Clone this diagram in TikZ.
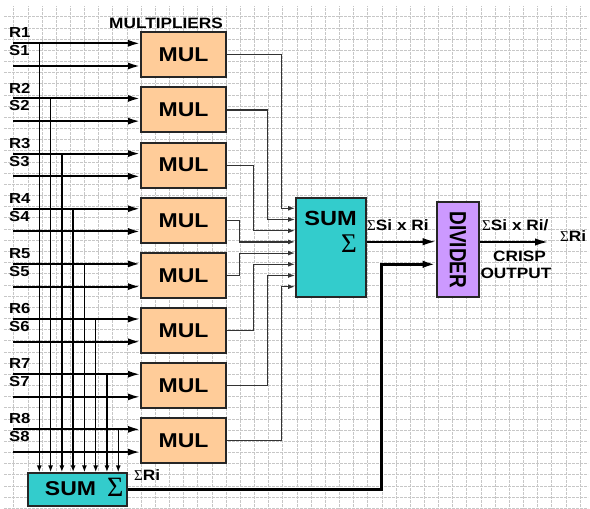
\documentclass[tikz,border=0pt]{standalone}
\usepackage{fontspec}
\setmainfont[FakeStretch=1.15]{Liberation Sans}
\newfontfamily\sigfont{Liberation Serif}
\usetikzlibrary{arrows.meta,calc}
\definecolor{mulfill}{HTML}{FFCC99}
\definecolor{sumfill}{HTML}{33CCCC}
\definecolor{divfill}{HTML}{CC99FF}
\begin{document}
\begin{tikzpicture}[x=1pt,y=-1pt,
  gridline/.style={draw=black!22,line width=0.5pt,dash pattern=on 2.5pt off 1.5pt},
  box/.style={draw=black!85,line width=2pt,inner sep=0pt},
  mulbox/.style={box,fill=mulfill,minimum width=85pt,minimum height=45pt,
     font=\fontsize{20}{20}\selectfont\bfseries},
  lbl/.style={inner sep=0pt,font=\fontsize{14.5}{14.5}\selectfont\bfseries},
  mlbl/.style={inner sep=0pt,font=\fontsize{15}{15}\selectfont\bfseries},
  inarr/.style={line width=2pt,-{Latex[length=12pt,width=7pt]}},
  varr/.style={line width=1.4pt,-{Latex[length=7pt,width=5pt]}},
  outline/.style={draw=black!80,line width=1.2pt,-{Latex[length=7pt,width=5pt]}},
  mainarr/.style={line width=2pt,-{Latex[length=13pt,width=7.5pt]}},
  fatarr/.style={line width=3pt,-{Latex[length=13pt,width=7.5pt]}}
]
\useasboundingbox (0,0) rectangle (590,509);
% background grid
\begin{scope}
\clip (4,6) rectangle (588,509);
\foreach \k in {0,...,41} \draw[gridline] ({-0.56+14.16*\k},0) -- ++(0,509);
\foreach \k in {0,...,45} \draw[gridline] (0,{5.5+11.17*\k}) -- ++(590,0);
\end{scope}

% multipliers
\node[mlbl,anchor=base west] (multl) at (109,28.3) {MULTIPLIERS};
\foreach \i in {1,...,8} {
  \pgfmathsetmacro\t{32.3+55.15*(\i-1)}
  \node[mulbox] (m\i) at (183.5,{\t+22.5}) {MUL};
  \node[lbl,anchor=base west] (rl\i) at (9,{\t+5.6}) {R\i};
  \node[lbl,anchor=base west] (sl\i) at (9,{\t+23.5}) {S\i};
  \coordinate (r\i) at (13,{\t+11});
  \coordinate (s\i) at (13,{\t+33.7});
  \coordinate (t\i) at ({39.3+11.28*(\i-1)},{\t+11});
}

% sum boxes and divider
\node[box,fill=sumfill,minimum width=70pt,minimum height=99pt] (sum) at (331,247.8) {};
\node[inner sep=0pt,anchor=base,font=\fontsize{20.5}{20.5}\selectfont\bfseries] (sumt) at (330.5,225) {SUM};
\node[inner sep=0pt,font=\sigfont\fontsize{27}{27}\selectfont] (sums) at (349,243.5) {Σ};

\node[box,fill=divfill,minimum width=42.6pt,minimum height=95pt] (div) at (458,249.8) {};
\node[inner sep=0pt,rotate=-90] (divt) at (div.center)
  {\fontsize{16.5}{16.5}\selectfont\bfseries\scalebox{1}[1.42]{DIVIDER}};

\node[box,fill=sumfill,minimum width=98.4pt,minimum height=32.7pt] (sumlow) at (77.5,489.7) {};
\node[inner sep=0pt,anchor=base,font=\fontsize{20}{20}\selectfont\bfseries] (sumlowt) at (70.5,495.5) {SUM};
\node[inner sep=0pt,font=\sigfont\fontsize{28}{28}\selectfont] (sumlows) at (115.3,487) {Σ};

% labels
\node[mlbl,anchor=base west] (rilbl) at (134,480) {{\sigfont\mdseries Σ}Ri};
\node[mlbl,anchor=base west] (srlbl) at (367,230.7) {{\sigfont\mdseries Σ}Si x Ri};
\node[mlbl,anchor=base west] (outlbl) at (482,230.7) {{\sigfont\mdseries Σ}Si x Ri/};
\node[mlbl,anchor=base west] (outlblb) at (560,241) {{\sigfont\mdseries Σ}Ri};
\node[mlbl,anchor=base] (crisp) at (519.5,261.7) {CRISP};
\node[mlbl,anchor=base] (crispb) at (516,278.3) {OUTPUT};

% inputs
\foreach \i in {1,...,8} {
  \draw[inarr] (r\i) -- (r\i -| m\i.west);
  \draw[inarr] (s\i) -- (s\i -| m\i.west);
  \draw[varr] (t\i) -- (t\i |- sumlow.north);
}

% multiplier outputs to sum
\foreach \i/\v in {1/281.7,2/267.7,3/253.3,4/239.3,5/239.3,6/253.3,7/267.7,8/281.7} {
  \coordinate (j\i) at (\v,{208.3+11.2*(\i-1)});
  \draw[outline] (m\i.east) -| (j\i) -- (j\i -| sum.west);
}

% sum to divider
\coordinate (sdy) at (0,241.7);
\draw[mainarr] (sum.east |- sdy) -- (div.west |- sdy);
\coordinate (bend) at (381,264.3);
\draw[fatarr] (sumlow.east) -| (bend) -- (bend -| div.west);
\coordinate (outend) at (548,242);
\draw[mainarr] (outend -| div.east) -- (outend);
\end{tikzpicture}
\end{document}
